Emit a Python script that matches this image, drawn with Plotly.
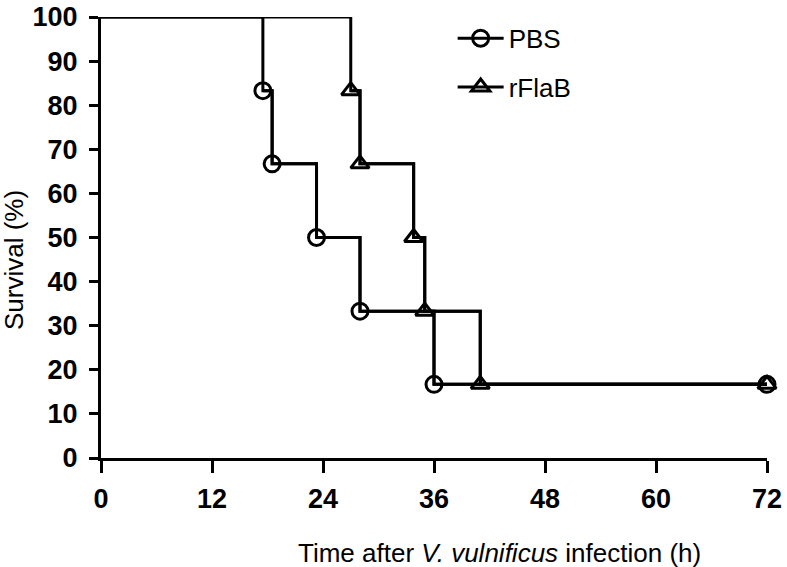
import plotly.graph_objects as go

# Data (Kaplan-Meier survival, %)
pbs_time = [0, 17.5, 18.5, 23.3, 28, 36, 72]
pbs_surv = [100, 83.3, 66.7, 50, 33.3, 16.7, 16.7]
rflab_time = [0, 27, 28, 33.8, 35, 41, 72]
rflab_surv = [100, 83.3, 66.7, 50, 33.3, 16.7, 16.7]

x_ticks = [0, 12, 24, 36, 48, 60, 72]
y_ticks = [0, 10, 20, 30, 40, 50, 60, 70, 80, 90, 100]

FONT = "Liberation Sans, Arial, sans-serif"
fig = go.Figure()

series = [
    ("PBS", pbs_time, pbs_surv, "circle-open", 16),
    ("rFlaB", rflab_time, rflab_surv, "triangle-up-open", 16),
]
for i, (name, t, s, sym, size) in enumerate(series):
    fig.add_trace(go.Scatter(
        x=t, y=s, mode="lines", line=dict(color="black", width=3, shape="hv"),
        showlegend=False, hoverinfo="skip", cliponaxis=False))
    fig.add_trace(go.Scatter(
        x=t[1:], y=s[1:], mode="lines+markers", name=name,
        line=dict(color="black", width=3, shape="hv"),
        marker=dict(symbol=sym, size=size, color="black", line=dict(width=3, color="black")),
        legendgroup=name, cliponaxis=False))

fig.update_layout(
    width=787, height=567,
    margin=dict(l=101, r=20, t=17, b=109),
    paper_bgcolor="white", plot_bgcolor="white",
    font=dict(family=FONT, color="black", size=26),
    legend=dict(x=0.528, y=1.005, xanchor="left", yanchor="top",
                font=dict(size=26, family=FONT), traceorder="grouped",
                tracegroupgap=12, itemwidth=46, bgcolor="rgba(0,0,0,0)"),
    showlegend=True,
)
fig.update_xaxes(
    range=[0, 72], tickvals=x_ticks, ticktext=[f"<b>{v}</b>" for v in x_ticks],
    showline=True, linecolor="black", linewidth=3, ticks="outside", ticklen=12,
    tickwidth=3, tickcolor="black", showgrid=False, zeroline=False, automargin=False,
    tickfont=dict(size=27, family=FONT), ticklabelstandoff=3)
fig.update_yaxes(
    range=[0, 100], tickvals=y_ticks, ticktext=[f"<b>{v}</b>" for v in y_ticks],
    showline=True, linecolor="black", linewidth=3, ticks="outside", ticklen=9,
    tickwidth=3, tickcolor="black", showgrid=False, zeroline=False, automargin=False,
    tickfont=dict(size=27, family=FONT), ticklabelstandoff=6)

fig.add_annotation(text="Time after <i>V. vulnificus</i> infection (h)",
                   xref="paper", yref="paper", x=(499 - 101) / 666, y=-(553 - 458) / 441,
                   xanchor="center", yanchor="middle", showarrow=False,
                   font=dict(size=26, family=FONT))
fig.add_annotation(text="Survival (%)", textangle=-90,
                   xref="paper", yref="paper", x=-(101 - 14) / 666, y=(458 - 260) / 441,
                   xanchor="center", yanchor="middle", showarrow=False,
                   font=dict(size=26, family=FONT))

# remove the default 8px page margin so the figure fills the window exactly
fig.write_html("out.html", config={"displayModeBar": False},
               post_script="document.body.style.margin='0px';document.body.style.overflow='hidden';")
